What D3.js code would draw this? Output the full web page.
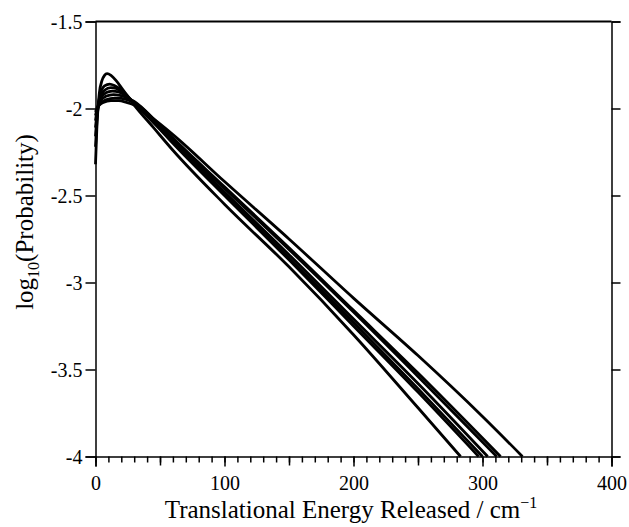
<!DOCTYPE html>
<html>
  <head>
    <meta charset="UTF-8" />
    <script src="https://cdnjs.cloudflare.com/ajax/libs/d3/7.8.5/d3.min.js"></script>
    <style>
      body { margin: 0; background: #fff; }
    </style>
  </head>
  <body>
    <svg id="chart" width="629" height="527"></svg>
    <script>
      // [energy / cm-1, log10(P)], one array per curve
      const curve1 = [[0,-2.32],[1,-2.12],[2,-1.99],[3,-1.91],[5,-1.84],[7,-1.81],[9,-1.80],[12,-1.81],[16,-1.84],[21,-1.89],[30,-1.98],[45,-2.11],[60,-2.24],[100,-2.55],[150,-2.91],[200,-3.30],[250,-3.72],[283,-4.0]];
      const curve2 = [[0,-2.22],[1,-2.08],[2,-1.99],[4,-1.91],[7,-1.87],[11,-1.86],[15,-1.87],[21,-1.90],[30,-1.97],[45,-2.08],[60,-2.20],[100,-2.50],[150,-2.87],[200,-3.25],[250,-3.63],[297,-4.0]];
      const curve3 = [[0,-2.16],[1,-2.06],[2,-1.99],[4,-1.93],[7,-1.895],[12,-1.88],[16,-1.885],[21,-1.91],[30,-1.97],[45,-2.08],[60,-2.19],[100,-2.49],[150,-2.86],[200,-3.23],[250,-3.61],[300,-4.0]];
      const curve4 = [[0,-2.11],[1,-2.04],[2,-1.99],[4,-1.94],[8,-1.91],[13,-1.90],[18,-1.905],[24,-1.93],[30,-1.965],[45,-2.07],[60,-2.19],[100,-2.48],[150,-2.84],[200,-3.21],[250,-3.58],[304,-4.0]];
      const curve5 = [[0,-2.07],[1,-2.02],[2,-1.99],[4,-1.955],[8,-1.93],[14,-1.92],[19,-1.925],[25,-1.94],[30,-1.96],[45,-2.06],[60,-2.18],[100,-2.46],[150,-2.81],[200,-3.17],[250,-3.54],[311,-4.0]];
      const curve6 = [[0,-2.04],[1,-2.01],[2,-1.99],[4,-1.97],[8,-1.95],[15,-1.94],[20,-1.942],[25,-1.95],[30,-1.965],[45,-2.06],[60,-2.17],[100,-2.45],[150,-2.80],[200,-3.16],[250,-3.52],[314,-4.0]];
      const curve7 = [[0,-2.02],[1,-2.00],[3,-1.98],[6,-1.965],[12,-1.955],[18,-1.955],[24,-1.965],[30,-1.98],[45,-2.06],[60,-2.15],[100,-2.42],[150,-2.75],[200,-3.09],[250,-3.42],[300,-3.77],[331,-4.0]];

      const xTicks = [0, 100, 200, 300, 400];
      const xMinor = d3.range(0, 401, 10);
      const xMid = [50, 150, 250, 350];
      const yTicks = [-4, -3.5, -3, -2.5, -2, -1.5];

      const svg = d3.select("#chart");
      const font = "'Liberation Serif', 'Times New Roman', serif";

      const x = d3.scaleLinear().domain([0, 400]).range([95.5, 611.5]),
        y = d3.scaleLinear().domain([-4, -1.5]).range([456.5, 21.5]);

      // bottom ticks: minor every 10, medium at 50s
      svg.append("g")
        .attr("transform", "translate(0,456.5)")
        .call(d3.axisBottom(x).tickValues(xMinor).tickSize(6).tickFormat(() => ""))
        .call(g => g.select(".domain").remove());
      svg.append("g")
        .attr("transform", "translate(0,456.5)")
        .call(d3.axisBottom(x).tickValues(xMid).tickSize(9).tickFormat(() => ""))
        .call(g => g.select(".domain").remove());

      svg.append("g")
        .attr("transform", "translate(0,456.5)")
        .call(d3.axisBottom(x).tickValues(xTicks).tickSize(10).tickPadding(9).tickFormat(d3.format("d")));

      const yAxisG = svg.append("g")
        .attr("transform", "translate(95.5,0)")
        .call(d3.axisLeft(y).tickValues(yTicks).tickSize(10).tickPadding(3).tickFormat(d => d));

      svg.append("g")
        .attr("transform", "translate(611.5,0)")
        .call(d3.axisRight(y).tickValues(yTicks).tickSize(9).tickFormat(() => ""));

      svg.append("line")
        .attr("x1", x(0)).attr("x2", x(400))
        .attr("y1", y(-1.5)).attr("y2", y(-1.5))
        .attr("stroke", "#000").attr("stroke-width", 2);

      svg.selectAll(".domain").attr("stroke-width", 1.5);
      svg.selectAll(".tick line").attr("stroke", "#000").attr("stroke-width", 1.5);
      svg.selectAll(".tick text")
        .attr("font-family", font)
        .attr("font-size", 20)
        .attr("fill", "#000");
      yAxisG.selectAll(".tick text").attr("dy", "0.34em");

      // curves
      const line = d3.line()
        .x(d => x(d[0]))
        .y(d => y(d[1]))
        .curve(d3.curveMonotoneX);

      svg.selectAll("path.pe")
        .data([curve1, curve2, curve3, curve4, curve5, curve6, curve7])
        .enter()
        .append("path")
        .attr("class", "pe")
        .attr("d", line)
        .attr("fill", "none")
        .attr("stroke", "#000")
        .attr("stroke-width", 2.8);

      // axis titles
      const xTitle = svg.append("text")
        .attr("x", 351)
        .attr("y", 518)
        .attr("text-anchor", "middle")
        .attr("font-family", font)
        .attr("font-size", 25);
      xTitle.append("tspan").text("Translational Energy Released / cm");
      xTitle.append("tspan").attr("dy", -10).attr("font-size", 16).text("\u22121");

      const yTitle = svg.append("text")
        .attr("transform", "translate(33,222) rotate(-90)")
        .attr("text-anchor", "middle")
        .attr("font-family", font)
        .attr("font-size", 25);
      yTitle.append("tspan").text("log");
      yTitle.append("tspan").attr("dy", 6).attr("font-size", 16).text("10");
      yTitle.append("tspan").attr("dy", -6).text("(Probability)");
    </script>
  </body>
</html>
